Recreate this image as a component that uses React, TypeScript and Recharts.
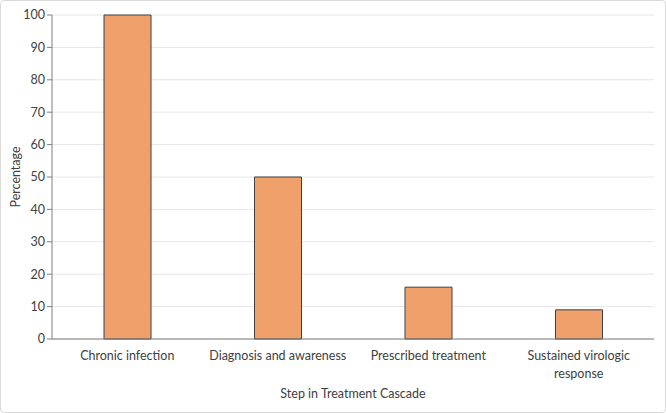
import React from "react";
import { BarChart, Bar, XAxis, YAxis, CartesianGrid, Label } from "recharts";

const categories = ["Chronic infection", "Diagnosis and awareness", "Prescribed treatment", "Sustained virologic response"];
const percentages = [100, 50, 16, 9];
const yTicks = [0, 10, 20, 30, 40, 50, 60, 70, 80, 90, 100];

const data = categories.map((c, i) => ({ step: c, value: percentages[i] }));

const FONT = "Lato, 'Open Sans', sans-serif";
const MAX_CHARS = 24;

function wrapWords(s: string): string[] {
  const words = s.split(" ");
  const lines: string[] = [];
  let cur = "";
  for (const w of words) {
    const next = cur ? cur + " " + w : w;
    if (next.length > MAX_CHARS && cur) {
      lines.push(cur);
      cur = w;
    } else {
      cur = next;
    }
  }
  if (cur) lines.push(cur);
  return lines;
}

const renderCatTick = (props: any) => {
  const { x, y, payload } = props;
  const lines = wrapWords(String(payload.value));
  return (
    <text x={x} y={y + 13} textAnchor="middle" fontSize={12.5} fontFamily={FONT} fill="#404040">
      {lines.map((l, i) => (
        <tspan key={i} x={x} dy={i === 0 ? 0 : 18}>
          {l}
        </tspan>
      ))}
    </text>
  );
};

export default function App() {
  return (
    <div
      style={{
        position: "absolute",
        left: 0,
        top: 0,
        width: 666,
        height: 413,
        boxSizing: "border-box",
        border: "1px solid #d9d9d9",
        borderRadius: 4,
        background: "#fff",
      }}
    >
      <div style={{ position: "absolute", left: -1, top: -1 }}>
        <BarChart width={666} height={413} data={data} margin={{ top: 15, right: 12, bottom: 0, left: 0 }}>
          <CartesianGrid vertical={false} stroke="#e6e6e6" />
          <XAxis
            dataKey="step"
            height={74}
            tickLine={false}
            axisLine={{ stroke: "#7f7f7f" }}
            tick={renderCatTick}
            interval={0}
          >
            <Label
              value="Step in Treatment Cascade"
              position="insideBottom"
              offset={15}
              style={{ fontSize: 12.5, fontFamily: FONT, fill: "#404040" }}
            />
          </XAxis>
          <YAxis
            width={52}
            domain={[0, 100]}
            ticks={yTicks}
            interval={0}
            tickSize={5}
            tickLine={{ stroke: "#7f7f7f" }}
            axisLine={{ stroke: "#7f7f7f" }}
            tick={{ fontSize: 12.5, fontFamily: FONT, fill: "#404040" }}
          >
            <Label
              value="Percentage"
              angle={-90}
              position="insideLeft"
              offset={16}
              style={{ textAnchor: "middle", fontSize: 12.5, fontFamily: FONT, fill: "#404040" }}
            />
          </YAxis>
          <Bar dataKey="value" fill="#F0A06B" stroke="#404040" strokeWidth={1} barSize={47} isAnimationActive={false} />
        </BarChart>
      </div>
    </div>
  );
}
